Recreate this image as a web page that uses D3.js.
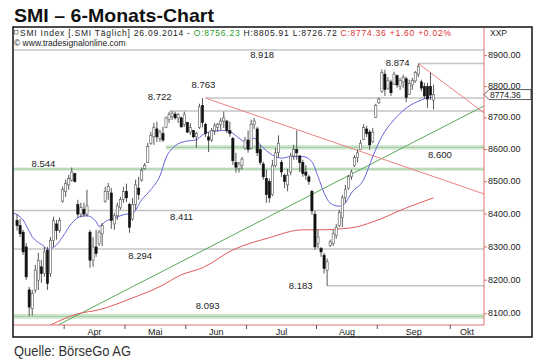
<!DOCTYPE html>
<html>
<head>
<meta charset="utf-8">
<script src="https://cdnjs.cloudflare.com/ajax/libs/d3/7.8.5/d3.min.js"></script>
<style>
  body { margin: 0; background: #fff; }
  text { font-family: "Liberation Sans", Arial, sans-serif; }
</style>
</head>
<body>
<div id="chart"></div>
<script>
// SMI daily candles, bar 0 = 11.03.2014 ... bar 137 = 26.09.2014
const opens = [
  8380,8365,8345,8300,8171,8115,8170,8200,8240,8220,
  8290,8220,8320,8370,8350,8440,8470,8490,8505,8525,
  8430,8400,8415,8400,8345,8260,8300,8310,8340,8440,
  8470,8465,8370,8395,8420,8445,8470,8430,8385,8430,
  8480,8505,8540,8560,8620,8640,8665,8635,8650,8670,
  8695,8705,8712,8700,8700,8680,8685,8655,8660,8640,
  8670,8740,8680,8640,8630,8660,8670,8680,8690,8690,
  8660,8635,8560,8540,8550,8605,8630,8605,8680,8665,
  8600,8555,8510,8500,8460,8550,8590,8560,8520,8490,
  8530,8580,8600,8580,8560,8530,8515,8470,8400,8310,
  8295,8275,8230,8305,8310,8335,8365,8390,8450,8480,
  8515,8550,8575,8600,8632,8665,8655,8625,8702,8748,
  8785,8840,8795,8815,8808,8835,8800,8815,8825,8775,
  8805,8818,8840,8815,8800,8800,8800,8756.23
];
const highs = [
  8400,8385,8352,8312,8180,8171,8246,8282,8261,8300,
  8300,8330,8392,8382,8390,8485,8506,8521,8544,8527,
  8444,8435,8435,8475,8352,8330,8352,8352,8373,8484,
  8496,8480,8404,8435,8453,8484,8494,8435,8450,8506,
  8515,8544,8558,8621,8656,8684,8688,8662,8672,8704,
  8719,8722,8720,8716,8704,8720,8688,8684,8662,8656,
  8745,8763,8684,8655,8668,8684,8684,8700,8720,8694,
  8688,8640,8590,8562,8577,8640,8660,8694,8700,8672,
  8615,8562,8537,8510,8568,8605,8645,8568,8525,8540,
  8590,8615,8660,8583,8568,8552,8521,8475,8410,8352,
  8300,8282,8265,8322,8352,8370,8413,8459,8490,8521,
  8537,8583,8600,8630,8680,8675,8662,8668,8745,8765,
  8855,8854,8830,8822,8848,8838,8828,8838,8832,8822,
  8828,8850,8874,8822,8812,8812,8845,8805.91
];
const lows = [
  8350,8330,8276,8201,8093,8095,8162,8171,8192,8210,
  8171,8210,8300,8322,8343,8435,8453,8475,8500,8497,
  8388,8390,8392,8392,8237,8240,8270,8303,8303,8435,
  8444,8355,8352,8382,8413,8435,8437,8343,8380,8413,
  8444,8500,8537,8558,8615,8615,8624,8624,8624,8668,
  8684,8694,8695,8684,8668,8672,8652,8646,8636,8606,
  8665,8670,8640,8592,8624,8646,8656,8662,8668,8652,
  8640,8552,8528,8528,8537,8600,8590,8600,8665,8580,
  8552,8506,8435,8435,8455,8545,8575,8515,8480,8470,
  8520,8568,8568,8530,8515,8506,8490,8398,8291,8296,
  8270,8220,8183,8300,8303,8325,8360,8360,8435,8475,
  8506,8545,8560,8598,8630,8640,8599,8620,8700,8745,
  8780,8770,8790,8770,8805,8796,8789,8796,8750,8773,
  8789,8812,8830,8785,8762,8732,8757,8726.72
];
const closes = [
  8365,8340,8285,8210,8120,8160,8230,8260,8220,8285,
  8190,8320,8380,8350,8380,8475,8495,8510,8530,8500,
  8400,8420,8400,8425,8260,8300,8280,8345,8365,8470,
  8485,8380,8395,8425,8445,8470,8450,8360,8430,8490,
  8460,8535,8550,8610,8645,8670,8640,8655,8630,8700,
  8710,8715,8700,8710,8672,8710,8655,8670,8640,8650,
  8735,8685,8650,8630,8660,8675,8680,8690,8700,8660,
  8650,8565,8545,8555,8570,8630,8600,8680,8690,8590,
  8560,8515,8460,8450,8550,8590,8620,8530,8500,8520,
  8580,8600,8590,8560,8525,8520,8500,8410,8300,8330,
  8285,8235,8255,8315,8340,8360,8405,8450,8475,8515,
  8530,8575,8590,8620,8670,8650,8615,8655,8740,8760,
  8845,8790,8820,8780,8840,8805,8820,8830,8765,8810,
  8820,8845,8865,8795,8770,8760,8772.76,8774.36
];

// blue moving average
const maShortIdx = [-1, 2, 5, 9, 10, 13, 15, 18, 21, 23, 26, 27, 29, 32, 35, 38, 41, 44, 47, 49, 52, 55, 59, 61, 64, 68, 70, 73, 76, 78, 80, 84, 87, 90, 94, 97, 99, 101, 103, 106, 108, 110, 114, 117, 120, 124, 128, 133, 136, 137];
const maShortVal = [8403, 8382, 8331, 8301, 8293, 8306, 8331, 8372, 8393, 8395, 8377, 8362, 8377, 8388, 8398, 8403, 8444, 8475, 8518, 8574, 8612, 8625, 8631, 8646, 8657, 8660, 8657, 8636, 8620, 8636, 8615, 8583, 8573, 8578, 8578, 8562, 8516, 8465, 8434, 8424, 8434, 8465, 8506, 8578, 8641, 8694, 8731, 8757, 8766, 8763];

// red long moving average
const maLongIdx = [11, 20, 27, 38, 47, 54, 61, 71, 83, 94, 99, 110, 117, 128, 137];
const maLongVal = [8067, 8100, 8112, 8147, 8181, 8216, 8237, 8291, 8328, 8352, 8352, 8358, 8376, 8419, 8450];

// trend lines [barIndex, value]
const trendDownA = [[62, 8763], [153.6, 8462]];
const trendDownB = [[132, 8874], [153.6, 8716]];
const trendUp = [[13.5, 8067], [153.6, 8738]];

// horizontal marks
const levels = [8918, 8874, 8763, 8722, 8411, 8294, 8183];
const levelFrom = [-1, 132, 62, 50, -1, -1, 102];
const zones = [[8534, 8544], [8600, 8614], [8085, 8100]];
const zoneFrom = [-1, 49, -1];
const zoneLabels = [8544, 8600, 8093];

// axis
const yTicks = [8100, 8200, 8300, 8400, 8500, 8600, 8700, 8800, 8900];
const monthNames = ["Apr", "Mai", "Jun", "Jul", "Aug", "Sep", "Okt"];
const monthStart = [15, 35, 55, 75, 98, 118, 142];

const W = 540, H = 360;
const plot = {left: 14, right: 484, top: 28, bottom: 325};

const svg = d3.select("#chart").append("svg")
  .attr("width", W).attr("height", H);

const x = d3.scaleLinear().domain([-1, 153.6]).range([plot.left, plot.right]);
const y = d3.scaleLog().domain([8067, 8990]).range([plot.bottom, plot.top]);

// title
svg.append("text")
  .attr("x", 14).attr("y", 21.5)
  .attr("font-family", "'Open Sans', sans-serif")
  .attr("font-weight", "bold").attr("font-size", "19px")
  .attr("textLength", 200).attr("lengthAdjust", "spacingAndGlyphs")
  .attr("fill", "#111")
  .text("SMI – 6-Monats-Chart");

svg.append("defs").append("clipPath").attr("id", "clip")
  .append("rect")
  .attr("x", plot.left).attr("y", plot.top)
  .attr("width", plot.right - plot.left).attr("height", plot.bottom - plot.top);

const g = svg.append("g").attr("clip-path", "url(#clip)");

// zones (green)
zones.forEach((z, k) => {
  g.append("rect")
    .attr("x", x(zoneFrom[k])).attr("y", y(z[1]))
    .attr("width", plot.right - x(zoneFrom[k]))
    .attr("height", y(z[0]) - y(z[1]))
    .attr("fill", "#cfe7cf");
  g.append("line")
    .attr("x1", x(zoneFrom[k])).attr("x2", plot.right)
    .attr("y1", (y(z[0]) + y(z[1])) / 2).attr("y2", (y(z[0]) + y(z[1])) / 2)
    .attr("stroke", "#a3c9a3").attr("stroke-width", 1);
});

// gray levels
levels.forEach((v, k) => {
  g.append("line")
    .attr("x1", x(levelFrom[k])).attr("x2", plot.right)
    .attr("y1", y(v)).attr("y2", y(v))
    .attr("stroke", "#c4c4c4").attr("stroke-width", 1.5);
});

const pline = d3.line().x(d => x(d[0])).y(d => y(d[1]));

g.append("path").attr("d", pline(trendUp))
  .attr("fill", "none").attr("stroke", "#5aa85a").attr("stroke-width", 1);
g.append("path").attr("d", pline(trendDownA))
  .attr("fill", "none").attr("stroke", "#ee8080").attr("stroke-width", 1);
g.append("path").attr("d", pline(trendDownB))
  .attr("fill", "none").attr("stroke", "#ee8080").attr("stroke-width", 1);

const curve = d3.line().x(d => x(d[0])).y(d => y(d[1])).curve(d3.curveMonotoneX);
g.append("path")
  .attr("d", curve(maLongIdx.map((d, k) => [d, maLongVal[k]])))
  .attr("fill", "none").attr("stroke", "#e05a5a").attr("stroke-width", 1);
g.append("path")
  .attr("d", curve(maShortIdx.map((d, k) => [d, maShortVal[k]])))
  .attr("fill", "none").attr("stroke", "#6464dc").attr("stroke-width", 1);

// candles
const bars = opens.map((o, i) => ({i: i, o: o, h: highs[i], l: lows[i], c: closes[i]}));

g.selectAll(".wick").data(bars).enter().append("line")
  .attr("class", "wick")
  .attr("x1", d => x(d.i)).attr("x2", d => x(d.i))
  .attr("y1", d => y(d.h)).attr("y2", d => y(d.l))
  .attr("stroke", "#444").attr("stroke-width", 0.9);

g.selectAll(".body").data(bars).enter().append("rect")
  .attr("class", "body")
  .attr("x", d => x(d.i) - 1.1)
  .attr("y", d => y(Math.max(d.o, d.c)))
  .attr("width", 2.2)
  .attr("height", d => Math.max(1, Math.abs(y(d.o) - y(d.c))))
  .attr("fill", d => d.c >= d.o ? "#fff" : "#111")
  .attr("stroke", d => d.c >= d.o ? "#555" : "#111")
  .attr("stroke-width", 0.6);

// level labels
const lab = (txt, cx, cy) => svg.append("text")
  .attr("x", cx).attr("y", cy)
  .attr("text-anchor", "middle").attr("font-size", "9.5px")
  .attr("fill", "#222").text(txt);
const fmt = v => d3.format(",")(v).replace(",", ".");

lab(fmt(levels[0]), x(80.6), y(levels[0]) + 8);
lab(fmt(levels[1]), x(125.2), y(levels[1]) + 2);
lab(fmt(levels[2]), x(61.3), y(levels[2]) - 10.5);
lab(fmt(levels[3]), x(46.9), y(levels[3]) - 11);
lab(fmt(levels[4]), x(54.1), y(levels[4]) + 9.5);
lab(fmt(levels[5]), x(40.5), y(levels[5]) + 10);
lab(fmt(levels[6]), x(93.3), y(levels[6]) + 3.5);
lab(fmt(zoneLabels[0]), x(8.7), y(zones[0][1]) - 1);
lab(fmt(zoneLabels[1]), x(139.1), y(zones[1][0]) + 8);
lab(fmt(zoneLabels[2]), x(62.7), y(zones[2][1]) - 5);

// axes (red)
svg.append("line")
  .attr("x1", plot.left).attr("x2", plot.right)
  .attr("y1", plot.bottom).attr("y2", plot.bottom)
  .attr("stroke", "#e07070").attr("stroke-width", 1);
svg.append("line")
  .attr("x1", plot.right).attr("x2", plot.right)
  .attr("y1", plot.top).attr("y2", plot.bottom)
  .attr("stroke", "#e07070").attr("stroke-width", 1);

yTicks.forEach(v => {
  svg.append("line")
    .attr("x1", plot.right).attr("x2", plot.right + 3)
    .attr("y1", y(v)).attr("y2", y(v))
    .attr("stroke", "#e07070");
  svg.append("text")
    .attr("x", 488).attr("y", y(v) + 2.6)
    .attr("font-size", "9px").attr("fill", "#222")
    .text(d3.format(".2f")(v));
});

// month ticks and labels
const tickX = monthStart.map(m => x(m + 0.5));
tickX.forEach((tx, k) => {
  svg.append("line")
    .attr("x1", tx).attr("x2", tx)
    .attr("y1", plot.bottom).attr("y2", plot.bottom + 4)
    .attr("stroke", "#555");
  const nx = k < tickX.length - 1 ? tickX[k + 1] : plot.right;
  svg.append("text")
    .attr("x", (tx + nx) / 2).attr("y", 334.5)
    .attr("text-anchor", "middle").attr("font-size", "9px")
    .attr("fill", "#222").text(monthNames[k]);
});

// last price marker
const n = closes.length;
const lastC = closes[n - 1];
const py = y(lastC);
svg.append("path")
  .attr("d", `M${plot.right},${py} L${plot.right + 5},${py - 5} L531,${py - 5} L531,${py + 5} L${plot.right + 5},${py + 5} Z`)
  .attr("fill", "#fff").attr("stroke", "#333").attr("stroke-width", 0.8);
svg.append("text")
  .attr("x", 490).attr("y", py + 3.6)
  .attr("font-size", "8.5px").attr("fill", "#222")
  .text(d3.format(".2f")(lastC));

// header
const chg = closes[n - 1] - closes[n - 2];
const pct = chg / closes[n - 2] * 100;
svg.append("rect").attr("x", 14.5).attr("y", 30.5).attr("width", 3.5).attr("height", 3.5)
  .attr("fill", "none").attr("stroke", "#666").attr("stroke-width", 0.7);
const hdr = svg.append("text")
  .attr("x", 20).attr("y", 35.5)
  .attr("font-size", "8.5px")
  .attr("textLength", 431).attr("lengthAdjust", "spacing");
hdr.append("tspan").attr("fill", "#222").text("SMI Index [.SMI  Täglich] 26.09.2014 - ");
hdr.append("tspan").attr("fill", "#2ca02c").text("O:" + d3.format(".2f")(opens[n - 1]) + " ");
hdr.append("tspan").attr("fill", "#222")
  .text("H:" + d3.format(".2f")(highs[n - 1]) + " L:" + d3.format(".2f")(lows[n - 1]) + " ");
hdr.append("tspan").attr("fill", "#e03030")
  .text("C:" + d3.format(".2f")(lastC) + " " + d3.format("+.2f")(chg) + " " + d3.format("+.2f")(pct) + "%");

svg.append("text")
  .attr("x", 14).attr("y", 45.5)
  .attr("font-size", "8.5px").attr("fill", "#222")
  .text("© www.tradesignalonline.com");

svg.append("text")
  .attr("x", 490).attr("y", 35.5)
  .attr("font-size", "8.5px").attr("fill", "#222")
  .text("XXP");

// frame
svg.append("rect")
  .attr("x", 13).attr("y", 27)
  .attr("width", 519).attr("height", 310)
  .attr("fill", "none").attr("stroke", "#111").attr("stroke-width", 1.5);

// source
svg.append("text")
  .attr("x", 14).attr("y", 356)
  .attr("font-family", "'Open Sans', sans-serif")
  .attr("font-size", "14.5px").attr("fill", "#333")
  .attr("textLength", 117).attr("lengthAdjust", "spacingAndGlyphs")
  .text("Quelle: BörseGo AG");
</script>
</body>
</html>
